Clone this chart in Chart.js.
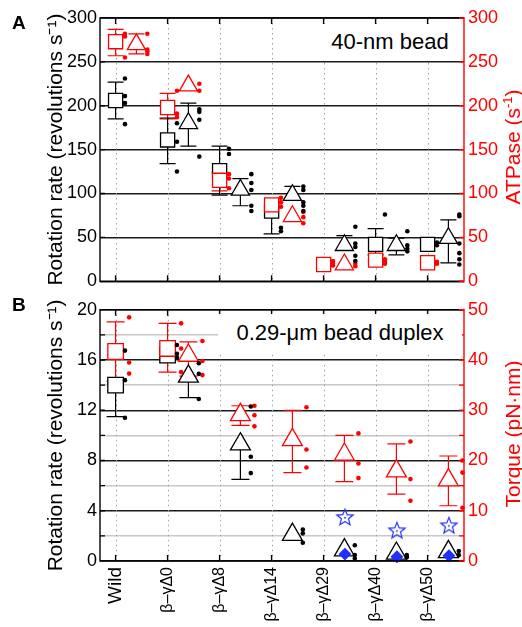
<!DOCTYPE html>
<html><head><meta charset="utf-8">
<script src="https://cdn.jsdelivr.net/npm/chart.js@4.4.1/dist/chart.umd.min.js"></script>
<style>
html,body{margin:0;padding:0;background:#fff;}
#wrap{position:relative;width:522px;height:627px;overflow:hidden;font-family:'Liberation Sans',Arial,sans-serif;}
canvas{position:absolute;left:0;}
#cA{top:0;} #cB{top:295px;}
.lbl{position:absolute;font-weight:bold;font-size:19px;line-height:19px;color:#000;}
.box{position:absolute;background:#fff;font-size:22px;line-height:22px;color:#000;display:flex;align-items:center;justify-content:center;white-space:nowrap;}
.rt{position:absolute;color:#f00;font-size:21px;line-height:21px;white-space:nowrap;transform:translate(-50%,-50%) rotate(-90deg);}
.rt sup{font-size:13px;line-height:0;}
</style></head><body>
<div id="wrap">
<canvas id="cA" width="522" height="296"></canvas>
<canvas id="cB" width="522" height="332"></canvas>
<div class="lbl" style="left:12px;top:13px">A</div>
<div class="lbl" style="left:12px;top:295px">B</div>
<div class="box" style="left:318px;top:24px;width:144px;height:36px">40-nm bead</div>
<div class="box" style="left:218px;top:314px;width:244px;height:38px">0.29-μm bead duplex</div>
<div class="rt" style="left:512px;top:147px">ATPase (s<sup>-1</sup>)</div>
<div class="rt" style="left:512px;top:434px">Torque (pN·nm)</div>
</div>
<script>
// ---------- data ----------
const cats = ["Wild", "β–γΔ0", "β–γΔ8", "β–γΔ14", "β–γΔ29", "β–γΔ40", "β–γΔ50"];

// Panel A: rotation rate (revolutions/s), black
const rotSq    = [206, 161, 126, 80, null, 42, 42];
const rotSqHi  = [227, 186, 154, null, null, 60, null];
const rotSqLo  = [185, 134, 98, 54, null, 30, null];
const rotSqPts = [[231, 211, 203, 179], [180, 159, 125], [151, 145], [61, 57], [], [76], [44, 41]];
const rotTri    = [null, 180, 104, 98, 41, 41, 49];
const rotTriHi  = [null, 203, 117, 108, 52, 49, 70];
const rotTriLo  = [null, 154, 86, null, null, 30, 21];
const rotTriPts = [[], [196, 193, 184, 142], [122, 112, 104, 86, 80], [108, 104, 90, 86, 80], [62, 43, 39, 29, 23], [57, 41, 37, 34], [76, 74, 43, 32, 25, 19]];
// Panel A: ATPase (1/s), red
const atpSq    = [273, 198, 115, 87, 19, 24, 21];
const atpSqHi  = [287, 214, 124, null, null, null, null];
const atpSqLo  = [257, 185, 103, null, null, null, null];
const atpSqPts = [[282, 279, 255], [217, 191, 187], [122, 117, 106], [95, 90, 85], [23, 20, 18], [25, 22, 20], [22, 20]];
const atpTri    = [270, 223, null, 74, 19, null, null];
const atpTriHi  = [282, null, null, null, null, null, null];
const atpTriLo  = [259, null, null, null, null, null, null];
const atpTriPts = [[282, 264, 262, 259], [225, 217], [], [79, 73, 66], [20, 17], [], []];

// Panel B: rotation rate (revolutions/s), black
const rotSqB    = [14.0, 16.4, null, null, null, null, null];
const rotSqBHi  = [null, null, null, null, null, null, null];
const rotSqBLo  = [11.5, null, null, null, null, null, null];
const rotSqBPts = [[16.75, 14.4, 11.4], [17.2, 16.5, 16.2], [], [], [], [], []];
const rotTriB    = [null, 14.7, 9.3, 2.1, 0.87, 0.6, 0.73];
const rotTriBHi  = [null, null, null, null, null, null, null];
const rotTriBLo  = [null, 13.0, 6.5, null, null, null, null];
const rotTriBPts = [[], [15.75, 14.9, 12.9], [12.3, 8.3, 7.0], [2.5, 2.2, 1.45], [1.25, 0.47, 0.2], [0.47, 0.29], [0.8, 0.47]];
// Panel B: torque (pN·nm), red
const torqSq    = [41.7, 42.3, null, null, null, null, null];
const torqSqHi  = [47.6, 47.3, null, null, null, null, null];
const torqSqLo  = [35.8, 37.6, null, null, null, null, null];
const torqSqPts = [[48.5, 39.5, 37.3], [47.3, 42.3, 37.6], [], [], [], [], []];
const torqTri    = [null, 40.9, 29.1, 24.1, 21.2, 17.9, 16.1];
const torqTriHi  = [null, 43.6, 30.9, 30.0, 25.0, 23.3, 20.9];
const torqTriLo  = [null, 36.8, 27.0, 17.6, 15.8, 13.3, 11.0];
const torqTriPts = [[], [43.8, 39.8, 37.0], [30.9, 29.0, 26.8], [30.6, 22.2, 18.6], [25.4, 19.4, 16.5], [23.8, 16.3, 12.0], [20.0, 17.6, 10.6]];
// Panel B: blue markers (left axis)
const starVals    = [null, null, null, null, 3.5, 2.45, 2.85];
const diamondVals = [null, null, null, null, 0.55, 0.34, 0.42];

// ---------- helpers ----------
Chart.defaults.font.family = "'Liberation Sans', Arial, sans-serif";
const BLACK = '#000', RED = '#ff0000', BLUE = '#1f2fff';

function markers(vals, hi, lo, off, axis, color, style, r, order) {
  const data = [];
  vals.forEach((v, i) => { if (v != null) data.push({x: i + 1 + off, y: v}); });
  return {data, values: vals, errHi: hi, errLo: lo, xOff: off, yAxisID: axis,
    pointStyle: style, pointRadius: r, pointBorderWidth: 1.3,
    pointBorderColor: color, pointBackgroundColor: '#fff', borderColor: color,
    showLine: false, order, clip: false};
}
function dots(groups, off, axis, color) {
  const data = [];
  groups.forEach((g, i) => g.forEach(v => data.push({x: i + 1 + off, y: v})));
  return {data, yAxisID: axis, pointStyle: 'circle', pointRadius: 2.3, pointBorderWidth: 0,
    pointBackgroundColor: color, pointBorderColor: color, borderColor: color, showLine: false, order: 0, clip: false};
}
function starImg() {
  const c = document.createElement('canvas'); c.width = 20; c.height = 20;
  const g = c.getContext('2d'); g.strokeStyle = BLUE; g.lineWidth = 1.2; g.beginPath();
  for (let k = 0; k < 10; k++) {
    const rr = k % 2 ? 3.7 : 8.6, a = -Math.PI / 2 + k * Math.PI / 5;
    const px = 10 + rr * Math.cos(a), py = 10.7 + rr * Math.sin(a);
    k ? g.lineTo(px, py) : g.moveTo(px, py);
  }
  g.closePath(); g.stroke();
  g.fillStyle = BLUE; g.beginPath(); g.arc(10, 10.7, 0.9, 0, 7); g.fill();
  return c;
}

const deco = {
  id: 'deco',
  beforeDatasetsDraw(chart) {
    const {ctx, chartArea: a, scales} = chart; const x = scales.x;
    ctx.save();
    ctx.strokeStyle = '#a0a0a0'; ctx.lineWidth = 1; ctx.setLineDash([1.5, 3.5]);
    x.ticks.forEach(t => { const px = Math.round(x.getPixelForValue(t.value)) + 0.5;
      ctx.beginPath(); ctx.moveTo(px, a.top); ctx.lineTo(px, a.bottom); ctx.stroke(); });
    ctx.setLineDash([]);
    // error bars
    const cap = chart.options.capW || 8;
    chart.data.datasets.forEach(ds => {
      if (!ds.errHi) return;
      const ys = scales[ds.yAxisID];
      ctx.strokeStyle = ds.borderColor; ctx.lineWidth = 1.2;
      ds.values.forEach((v, i) => {
        if (v == null) return;
        const px = x.getPixelForValue(i + 1 + ds.xOff), py = ys.getPixelForValue(v);
        [ds.errHi[i], ds.errLo[i]].forEach(e => {
          if (e == null) return;
          const pe = ys.getPixelForValue(e);
          ctx.beginPath(); ctx.moveTo(px, py); ctx.lineTo(px, pe);
          ctx.moveTo(px - cap, pe); ctx.lineTo(px + cap, pe); ctx.stroke();
        });
      });
    });
    ctx.restore();
  },
  afterDatasetsDraw(chart) {
    const {ctx, chartArea: a, scales} = chart; const {x, y, y2} = scales;
    ctx.save(); ctx.lineWidth = 1.4; ctx.strokeStyle = BLACK;
    ctx.beginPath();
    x.ticks.forEach(t => { const px = x.getPixelForValue(t.value);
      ctx.moveTo(px, a.top); ctx.lineTo(px, a.top + 6); ctx.moveTo(px, a.bottom); ctx.lineTo(px, a.bottom - 6); });
    y.ticks.forEach(t => { const py = y.getPixelForValue(t.value); ctx.moveTo(a.left, py); ctx.lineTo(a.left + 5, py); });
    ctx.moveTo(a.right, a.top); ctx.lineTo(a.left, a.top); ctx.lineTo(a.left, a.bottom); ctx.lineTo(a.right, a.bottom);
    ctx.stroke();
    ctx.strokeStyle = RED; ctx.beginPath();
    y2.ticks.forEach(t => { const py = y2.getPixelForValue(t.value); ctx.moveTo(a.right, py); ctx.lineTo(a.right - 5, py); });
    ctx.moveTo(a.right, a.top - 1); ctx.lineTo(a.right, a.bottom + 1);
    ctx.stroke();
    ctx.restore();
  }
};

function makeChart(id, datasets, cfg) {
  return new Chart(document.getElementById(id), {
    type: 'scatter',
    data: {datasets},
    plugins: [deco],
    options: {
      responsive: false, animation: false, devicePixelRatio: 1, capW: cfg.capW,
      layout: {padding: {top: cfg.padTop, left: 0, right: 0, bottom: 0}},
      plugins: {legend: {display: false}, tooltip: {enabled: false}},
      scales: {
        x: {type: 'linear', min: 0.7, max: 7.7,
          afterBuildTicks: s => { s.ticks = cats.map((c, i) => ({value: i + 1})); },
          grid: {display: false, drawTicks: false}, border: {display: false},
          ticks: cfg.xLabels ? {display: true, autoSkip: false, minRotation: 90, maxRotation: 90, padding: 6, color: BLACK,
              callback: (v, i) => cats[i], font: c => ({size: c.index === 0 ? 19 : 16})} : {display: false},
          afterFit: s => { s.height = cfg.xH; }},
        y: {position: 'left', min: 0, max: cfg.yMax,
          ticks: {stepSize: cfg.yStep, color: BLACK, font: {size: 18}, padding: 3,
            callback: v => (Math.round(v / cfg.yStep) % 2 === 0 ? v : '')},
          grid: {drawTicks: false, lineWidth: 1.4,
            color: c => (Math.round(c.tick.value / cfg.yStep) % 2 === 0 ? '#1a1a1a' : '#c8c8c8')},
          border: {display: false},
          title: {display: true, text: 'Rotation rate (revolutions s⁻¹)', color: BLACK,
            font: {size: 21, lineHeight: 1}, padding: {top: 46, bottom: 0}},
          afterFit: s => { s.width = 100; }},
        y2: {position: 'right', min: 0, max: cfg.y2Max,
          ticks: {stepSize: cfg.y2Step, color: RED, font: {size: 18}, padding: 4,
            callback: v => (Math.round(v / cfg.y2Step) % 2 === 0 ? v : '')},
          grid: {display: false, drawTicks: false}, border: {display: false},
          afterFit: s => { s.width = 58; }}
      }
    }
  });
}

// Panel A
makeChart('cA', [
  dots(rotSqPts, 0.18, 'y', BLACK),
  dots(rotTriPts, 0.61, 'y', BLACK),
  dots(atpSqPts, 0.18, 'y2', RED),
  dots(atpTriPts, 0.61, 'y2', RED),
  markers(atpSq, atpSqHi, atpSqLo, 0, 'y2', RED, 'rect', 10, 1),
  markers(atpTri, atpTriHi, atpTriLo, 0.4, 'y2', RED, 'triangle', 10.5, 1),
  markers(rotSq, rotSqHi, rotSqLo, 0, 'y', BLACK, 'rect', 10, 2),
  markers(rotTri, rotTriHi, rotTriLo, 0.4, 'y', BLACK, 'triangle', 10.5, 2)
], {padTop: 18, xH: 7, yMax: 300, yStep: 25, y2Max: 300, y2Step: 25, xLabels: false, capW: 8});

// Panel B
const star = starImg();
const starDs = markers(starVals, null, null, 0.41, 'y', BLUE, star, 9, 0);
const diaDs = markers(diamondVals, null, null, 0.41, 'y', BLUE, 'rectRot', 5.5, 0);
diaDs.pointBackgroundColor = BLUE;
makeChart('cB', [
  diaDs, starDs,
  dots(rotSqBPts, 0.18, 'y', BLACK),
  dots(rotTriBPts, 0.6, 'y', BLACK),
  dots(torqSqPts, 0.26, 'y2', RED),
  dots(torqTriPts, 0.67, 'y2', RED),
  markers(torqSq, torqSqHi, torqSqLo, 0, 'y2', RED, 'rect', 11, 1),
  markers(torqTri, torqTriHi, torqTriLo, 0.4, 'y2', RED, 'triangle', 11.5, 1),
  markers(rotSqB, rotSqBHi, rotSqBLo, 0, 'y', BLACK, 'rect', 11, 2),
  markers(rotTriB, rotTriBHi, rotTriBLo, 0.4, 'y', BLACK, 'triangle', 11.5, 2)
], {padTop: 12, xH: 66, yMax: 20, yStep: 2, y2Max: 50, y2Step: 5, xLabels: true, capW: 9});
</script>
</body></html>
